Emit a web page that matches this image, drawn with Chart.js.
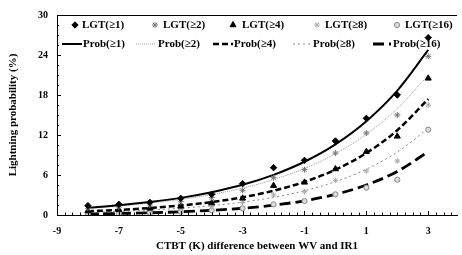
<!DOCTYPE html>
<html>
<head>
<meta charset="utf-8">
<script src="https://cdn.jsdelivr.net/npm/chart.js@4/dist/chart.umd.min.js"></script>
<style>
html,body{margin:0;padding:0;background:#fff;}
#wrap{width:462px;height:255px;position:relative;}
</style>
</head>
<body>
<div id="wrap"><canvas id="c" width="462" height="255"></canvas></div>
<script>
// ---- data ----
const xValues = [-8, -7, -6, -5, -4, -3, -2, -1, 0, 1, 2, 3];
const lgt1  = [1.4, 1.6, 1.9, 2.5, 3.1, 4.7, 7.1, 8.2, 11.1, 14.5, 18.0, 26.6];
const lgt2  = [1.0, 1.2, 1.5, 2.0, 2.6, 3.7, 5.6, 6.8, 9.3, 12.3, 15.0, 23.8];
const lgt4  = [0.6, 0.8, 1.0, 1.3, 1.8, 2.5, 4.4, 4.9, 6.9, 9.5, 11.8, 20.5];
const lgt8  = [0.4, 0.5, 0.7, 0.9, 1.3, 1.9, 3.0, 3.5, 5.2, 6.6, 8.1, 16.5];
const lgt16 = [0.2, 0.25, 0.35, 0.5, 0.7, 1.0, 1.6, 2.1, 3.1, 4.1, 5.3, 12.8];
const prob1  = [1.10, 1.46, 1.94, 2.57, 3.42, 4.53, 6.02, 7.99, 10.6, 14.07, 18.66, 24.76];
const prob2  = [1.02, 1.34, 1.77, 2.33, 3.06, 4.03, 5.31, 6.99, 9.2, 12.11, 15.95, 20.99];
const prob4  = [0.56, 0.76, 1.04, 1.42, 1.94, 2.66, 3.64, 4.97, 6.8, 9.30, 12.72, 17.39];
const prob8  = [0.39, 0.54, 0.74, 1.02, 1.40, 1.93, 2.65, 3.64, 5.0, 6.87, 9.44, 12.98];
const prob16 = [0.16, 0.23, 0.33, 0.48, 0.70, 1.01, 1.47, 2.13, 3.1, 4.50, 6.54, 9.49];
const xTickLabels = [-9, -7, -5, -3, -1, 1, 3];
const yTickLabels = [0, 6, 12, 18, 24, 30];
const lgtLabels  = ['LGT(≥1)', 'LGT(≥2)', 'LGT(≥4)', 'LGT(≥8)', 'LGT(≥16)'];
const probLabels = ['Prob(≥1)', 'Prob(≥2)', 'Prob(≥4)', 'Prob(≥8)', 'Prob(≥16)'];

const FONT = '"Liberation Serif", "Times New Roman", serif';
const pts = arr => xValues.map((x, i) => ({x: x, y: arr[i]}));

const lgtStyles = [
  {pointStyle: 'rectRot', radius: 3.2, color: '#000', fill: '#000'},
  {pointStyle: 'star', radius: 3, color: '#777', fill: '#777'},
  {pointStyle: 'triangle', radius: 3.5, color: '#000', fill: '#000'},
  {pointStyle: 'star', radius: 2.8, color: '#aaa', fill: '#aaa'},
  {pointStyle: 'circle', radius: 2.6, color: '#888', fill: '#ddd'}
];
const probStyles = [
  {color: '#000', width: 2, dash: []},
  {color: '#999', width: 1, dash: [1, 1]},
  {color: '#000', width: 2.5, dash: [6, 3]},
  {color: '#888', width: 1, dash: [2, 3]},
  {color: '#000', width: 2.8, dash: [11, 5]}
];
const lgtSeries = [lgt1, lgt2, lgt4, lgt8, lgt16];
const probSeries = [prob1, prob2, prob4, prob8, prob16];

const datasets = [];
probSeries.forEach((s, i) => {
  const st = probStyles[i];
  datasets.push({
    type: 'line', label: probLabels[i], data: pts(s),
    borderColor: st.color, borderWidth: st.width, borderDash: st.dash,
    pointRadius: 0, fill: false, cubicInterpolationMode: 'monotone', order: 2
  });
});
lgtSeries.forEach((s, i) => {
  const st = lgtStyles[i];
  datasets.push({
    type: 'scatter', label: lgtLabels[i], data: pts(s),
    pointStyle: st.pointStyle, pointRadius: st.radius,
    borderColor: st.color, backgroundColor: st.fill, borderWidth: 1, order: 1
  });
});

const decoPlugin = {
  id: 'deco',
  afterDraw(chart) {
    const ctx = chart.ctx, a = chart.chartArea;
    const xs = chart.scales.x, ys = chart.scales.y;
    ctx.save();
    ctx.strokeStyle = '#000';
    ctx.lineWidth = 1;
    // top border
    ctx.beginPath(); ctx.moveTo(a.left, a.top + 0.5); ctx.lineTo(a.right, a.top + 0.5); ctx.stroke();
    // y minor/major ticks (inside)
    for (let v = 0; v <= 30.001; v += 1.5) {
      const py = Math.round(ys.getPixelForValue(v)) + 0.5;
      const len = (v % 6 === 0) ? 4 : 2;
      ctx.beginPath(); ctx.moveTo(a.left, py); ctx.lineTo(a.left + len, py); ctx.stroke();
    }
    // x minor/major ticks (inside)
    for (let v = -9; v <= xs.max; v += 0.25) {
      const px = Math.round(xs.getPixelForValue(v)) + 0.5;
      const len = xTickLabels.indexOf(v) >= 0 ? 4 : 2.5;
      ctx.beginPath(); ctx.moveTo(px, a.bottom); ctx.lineTo(px, a.bottom - len); ctx.stroke();
    }
    // legend
    const markerX = [75, 155, 233, 317, 397];
    const text1X = [82, 163, 242, 325, 405];
    const lineX = [[62, 82], [136, 155], [213, 233], [293, 311], [373, 391]];
    const text2X = [83, 158, 234, 313, 393];
    const row1 = 25, row2 = 44;
    ctx.font = 'bold 11px ' + FONT;
    ctx.fillStyle = '#000';
    ctx.textBaseline = 'middle';
    ctx.textAlign = 'left';
    for (let i = 0; i < 5; i++) {
      const st = lgtStyles[i];
      ctx.save();
      ctx.strokeStyle = st.color; ctx.fillStyle = st.fill; ctx.lineWidth = 1;
      Chart.helpers.drawPoint(ctx, {pointStyle: st.pointStyle, radius: st.radius, borderWidth: 1, rotation: 0}, markerX[i], row1);
      ctx.restore();
      ctx.fillText(lgtLabels[i], text1X[i], row1);
      const ps = probStyles[i];
      ctx.save();
      ctx.strokeStyle = ps.color; ctx.lineWidth = ps.width; ctx.setLineDash(ps.dash);
      ctx.beginPath(); ctx.moveTo(lineX[i][0], row2); ctx.lineTo(lineX[i][1], row2); ctx.stroke();
      ctx.restore();
      ctx.fillText(probLabels[i], text2X[i], row2);
    }
    ctx.restore();
  }
};

new Chart(document.getElementById('c'), {
  data: {datasets: datasets},
  options: {
    responsive: false,
    animation: false,
    devicePixelRatio: 1,
    layout: {padding: {top: 12, right: 0, left: 0, bottom: 0}},
    plugins: {legend: {display: false}, tooltip: {enabled: false}},
    scales: {
      x: {
        type: 'linear', min: -9, max: 3.93,
        afterBuildTicks: s => { s.ticks = xTickLabels.map(v => ({value: v})); },
        afterFit: s => { s.height = 40; },
        grid: {display: true, drawOnChartArea: false, drawTicks: false},
        border: {display: true, color: '#000', width: 1},
        ticks: {padding: 10, color: '#000', font: {family: FONT, size: 10, weight: 'bold'}, maxRotation: 0},
        title: {display: true, text: 'CTBT (K) difference between WV and IR1', color: '#000',
                font: {family: FONT, size: 11, weight: 'bold'}, padding: {top: 0, bottom: 2}}
      },
      y: {
        type: 'linear', min: 0, max: 30,
        afterBuildTicks: s => { s.ticks = yTickLabels.map(v => ({value: v})); },
        afterFit: s => { s.width = 57; },
        grid: {display: true, drawOnChartArea: false, drawTicks: false},
        border: {display: true, color: '#000', width: 1},
        ticks: {padding: 9, color: '#000', font: {family: FONT, size: 10, weight: 'bold'}},
        title: {display: true, text: 'Lightning probability (%)', color: '#000',
                font: {family: FONT, size: 11, weight: 'bold'}, padding: {top: 7, bottom: 0}}
      }
    }
  },
  plugins: [decoPlugin]
});
</script>
</body>
</html>
